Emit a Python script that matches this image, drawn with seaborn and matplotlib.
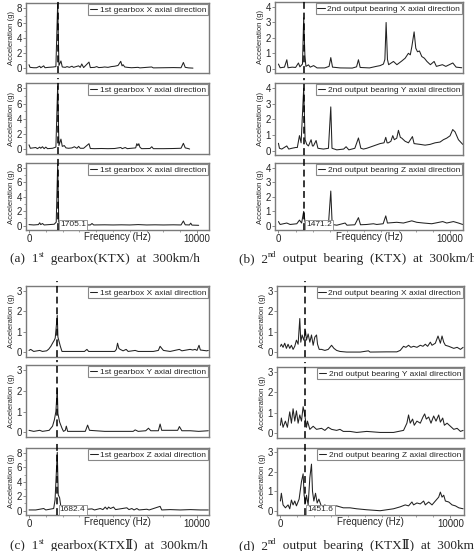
import matplotlib
matplotlib.use('Agg')
import matplotlib.pyplot as plt
import seaborn as sns
from matplotlib.ticker import MultipleLocator

# ---------------- data ----------------
# (a) 1st gearbox, KTX
a1_freq = [0, 60, 280, 450, 636, 700, 874, 950, 1150, 1450,
           1600, 1705, 1780, 1900, 1980, 2160, 2260, 2400, 2557, 2650,
           2950, 3050, 3140, 3250, 3570, 3650, 3900, 4030, 4150, 4350,
           4500, 4700, 4900, 5100, 5300, 5460, 5540, 5600, 5700, 5850,
           6100, 6490, 6600, 7300, 7400, 8000, 8600, 9050, 9190, 9300,
           9500, 9760]
a1_acc = [0.5, 0.15, 0.1, 0.1, 0.3, 0.1, 0.35, 0.1, 0.15, 0.2,
          0.25, 8.6, 0.4, 1.0, 0.2, 0.15, 0.25, 0.15, 0.3, 0.15,
          0.35, 0.15, 0.6, 0.12, 0.85, 0.12, 0.15, 0.25, 0.12, 0.15,
          0.2, 0.15, 0.25, 0.3, 0.4, 0.95, 0.35, 0.5, 0.2, 0.15,
          0.1, 0.15, 0.08, 0.2, 0.08, 0.1, 0.12, 0.1, 0.8, 0.15,
          0.08, 0.05]
a2_freq = [0, 80, 400, 500, 636, 700, 800, 900, 1000, 1100,
           1400, 1600, 1705, 1780, 1900, 1980, 2100, 2200, 2350, 2557,
           2700, 2850, 2953, 3050, 3250, 3570, 3650, 3900, 4300, 4700,
           5100, 5460, 5550, 5725, 5850, 6100, 6350, 6418, 6480, 6537,
           6600, 6700, 7200, 7309, 7400, 8000, 8600, 9050, 9190, 9300,
           9500, 9560]
a2_acc = [0.6, 0.15, 0.25, 0.1, 0.3, 0.15, 0.35, 0.1, 0.3, 0.1,
          0.15, 0.3, 8.3, 0.5, 1.35, 0.4, 0.5, 0.2, 0.15, 0.2,
          0.35, 0.15, 0.4, 0.15, 0.15, 0.75, 0.12, 0.1, 0.12, 0.1,
          0.12, 0.25, 0.1, 0.25, 0.1, 0.15, 0.2, 0.75, 0.5, 0.75,
          0.3, 0.1, 0.12, 0.35, 0.1, 0.1, 0.12, 0.15, 0.8, 0.2,
          0.1, 0.05]
a3_freq = [0, 280, 560, 636, 700, 800, 900, 1200, 1500, 1620,
           1705, 1770, 1850, 2000, 2400, 2953, 3100, 3200, 3300, 3650,
           3750, 3850, 4500, 5000, 5500, 6000, 6500, 7000, 7500, 8000,
           8600, 9050, 9190, 9300, 9550, 9626, 9700, 10100]
a3_acc = [0.15, 0.1, 0.15, 0.4, 0.15, 0.3, 0.1, 0.15, 0.2, 0.5,
          8.5, 0.5, 0.3, 0.1, 0.12, 0.1, 0.15, 0.35, 0.1, 0.1,
          0.3, 0.1, 0.12, 0.1, 0.12, 0.1, 0.15, 0.1, 0.12, 0.1,
          0.12, 0.1, 0.65, 0.12, 0.1, 0.35, 0.08, 0.05]

# (b) 2nd output bearing, KTX
b1_freq = [0, 100, 350, 489, 560, 800, 1000, 1165, 1250, 1400,
           1471, 1540, 1600, 1750, 1850, 2050, 2250, 2700, 2950, 3050,
           3150, 3600, 4300, 4550, 4660, 4760, 5300, 5700, 5923, 6115,
           6200, 6272, 6350, 6420, 6700, 6900, 7185, 7380, 7570, 7680,
           7770, 7903, 8000, 8100, 8213, 8350, 8500, 8650, 8850, 9068,
           9200, 9550, 9750, 10157, 10350, 10680]
b1_acc = [0.3, 0.06, 0.1, 0.58, 0.06, 0.1, 0.08, 0.37, 0.12, 0.3,
          3.3, 0.9, 0.15, 0.25, 0.1, 0.2, 0.05, 0.05, 0.15, 0.72,
          0.1, 0.05, 0.04, 0.12, 0.58, 0.08, 0.05, 0.15, 0.2, 0.3,
          0.6, 3.0, 0.6, 0.26, 0.47, 0.26, 0.5, 0.68, 1.0, 0.9,
          1.43, 2.39, 1.33, 1.1, 1.15, 0.79, 0.68, 0.47, 0.26, 0.47,
          0.15, 0.26, 0.15, 0.37, 0.1, 0.06]
b2_freq = [0, 60, 195, 486, 600, 778, 1000, 1100, 1224, 1321,
           1471, 1554, 1650, 1748, 1903, 1980, 2039, 2194, 2300, 2622,
           2913, 3049, 3120, 3398, 3800, 3941, 4100, 4450, 4660, 4800,
           4951, 5145, 5533, 5921, 6150, 6251, 6330, 6406, 6550, 6659,
           6750, 6892, 6989, 7100, 7183, 7377, 7572, 7805, 7900, 8250,
           8542, 8833, 9124, 9415, 9609, 9803, 9997, 10152, 10288, 10483,
           10735]
b2_acc = [0.47, 0.15, 0.1, 0.3, 0.1, 0.15, 0.2, 0.2, 0.96, 0.5,
          4.0, 0.7, 0.4, 0.3, 0.7, 0.3, 0.3, 0.65, 0.15, 0.1,
          0.15, 2.8, 0.15, 0.05, 0.1, 0.25, 0.05, 0.15, 0.81, 0.15,
          0.1, 0.15, 0.3, 0.45, 0.5, 0.85, 0.5, 0.5, 0.6, 0.96,
          0.7, 0.8, 1.3, 0.85, 0.8, 0.6, 0.5, 0.9, 0.45, 0.4,
          0.35, 0.4, 0.5, 0.55, 0.7, 0.8, 0.95, 1.35, 1.2, 0.7,
          0.4]
b3_freq = [0, 98, 486, 681, 1069, 1224, 1350, 1471, 1550, 1700,
           1900, 2100, 2400, 2913, 3049, 3130, 3400, 3884, 3990, 4450,
           4660, 4780, 5145, 5533, 5727, 6100, 6251, 6350, 6892, 7280,
           7766, 8056, 8445, 8930, 9570, 9803, 10191, 10483, 10735]
b3_acc = [0.3, 0.1, 0.2, 0.1, 0.15, 0.4, 0.2, 1.0, 0.25, 0.2,
          0.15, 0.2, 0.1, 0.1, 2.4, 0.1, 0.05, 0.2, 0.05, 0.08,
          0.57, 0.08, 0.1, 0.15, 0.1, 0.15, 0.69, 0.2, 0.25, 0.2,
          0.35, 0.25, 0.2, 0.15, 0.3, 0.2, 0.3, 0.2, 0.1]

# (c) 1st gearbox, KTX-II
c1_freq = [0, 100, 280, 636, 800, 1050, 1171, 1300, 1400, 1508,
           1560, 1682, 1720, 1800, 1864, 1963, 2500, 3300, 3448, 3550,
           5100, 5200, 5270, 5350, 5428, 5600, 5784, 5900, 6319, 6500,
           7400, 7700, 7804, 7900, 8002, 8400, 8952, 9100, 9586, 9750,
           9883, 10000, 10121, 10200, 10576, 10675]
c1_acc = [0.1, 0.15, 0.05, 0.1, 0.05, 0.08, 0.16, 0.3, 0.45, 0.6,
          0.7, 1.8, 0.75, 0.5, 0.3, 0.05, 0.05, 0.05, 0.15, 0.05,
          0.05, 0.15, 0.45, 0.2, 0.15, 0.08, 0.15, 0.05, 0.1, 0.05,
          0.05, 0.1, 0.3, 0.2, 0.1, 0.05, 0.15, 0.08, 0.15, 0.12,
          0.15, 0.1, 0.35, 0.12, 0.08, 0.1]
c2_freq = [0, 280, 636, 800, 1200, 1400, 1508, 1600, 1682, 1720,
           1820, 1963, 2050, 2161, 2220, 2300, 3350, 3488, 3600, 4500,
           6200, 6319, 6500, 6950, 7111, 7250, 7700, 7804, 7900, 8596,
           8850, 8952, 9100, 9600, 10100, 10675]
c2_acc = [0.1, 0.05, 0.1, 0.05, 0.1, 0.3, 0.6, 1.0, 2.1, 0.9,
          0.5, 0.2, 0.05, 0.1, 0.3, 0.05, 0.05, 0.35, 0.1, 0.05,
          0.05, 0.12, 0.05, 0.08, 0.2, 0.08, 0.08, 0.4, 0.1, 0.1,
          0.1, 0.28, 0.08, 0.08, 0.05, 0.08]
c3_freq = [0, 400, 874, 1000, 1468, 1550, 1682, 1740, 1820, 1900,
           2050, 2260, 2557, 2800, 3050, 3245, 3745, 3900, 4240, 4400,
           4537, 4650, 4735, 4850, 5032, 5150, 5824, 5950, 6121, 6250,
           6418, 6550, 7012, 7150, 7804, 7900, 8400, 9000, 9600, 10200,
           10675]
c3_acc = [0.1, 0.1, 0.3, 0.1, 0.3, 1.5, 8.1, 2.2, 1.8, 0.5,
          0.2, 0.15, 0.2, 0.1, 0.2, 0.15, 0.25, 0.1, 0.3, 0.15,
          0.5, 0.2, 0.5, 0.3, 0.5, 0.15, 0.4, 0.15, 0.3, 0.1,
          0.3, 0.1, 0.2, 0.1, 0.6, 0.1, 0.15, 0.1, 0.15, 0.1,
          0.1]

# (d) 2nd output bearing, KTX-II
d1_freq = [0, 57, 156, 254, 353, 451, 550, 648, 746, 845,
           943, 1042, 1140, 1199, 1278, 1376, 1475, 1534, 1632, 1731,
           1829, 1928, 2026, 2125, 2184, 2282, 2420, 2617, 2814, 3011,
           3149, 3306, 3503, 3897, 4700, 5177, 5275, 6260, 6850, 7047,
           7244, 7382, 7539, 7677, 7835, 8032, 8229, 8386, 8524, 8662,
           8819, 8918, 9114, 9272, 9410, 9508, 9607, 9705, 9902, 10198,
           10395, 10591, 10749]
d1_acc = [0.3, 0.4, 0.25, 0.45, 0.2, 0.4, 0.2, 0.35, 0.15, 0.3,
          0.6, 0.4, 1.65, 0.5, 0.85, 0.6, 1.05, 0.6, 0.9, 0.5,
          0.85, 0.35, 0.75, 0.85, 0.4, 0.15, 0.15, 0.1, 0.15, 0.35,
          0.2, 0.1, 0.05, 0.02, 0.02, 0.08, 0.02, 0.03, 0.03, 0.1,
          0.3, 0.25, 0.35, 0.25, 0.3, 0.25, 0.35, 0.3, 0.4, 0.3,
          0.5, 0.35, 0.45, 0.8, 0.45, 0.8, 0.5, 0.35, 0.3, 0.2,
          0.25, 0.15, 0.25]
d2_freq = [0, 57, 156, 294, 412, 550, 648, 746, 845, 943,
           1042, 1140, 1239, 1337, 1435, 1534, 1593, 1731, 1928, 2125,
           2420, 2617, 2814, 3011, 3306, 3503, 3700, 4094, 4488, 5078,
           5866, 6653, 7244, 7441, 7539, 7638, 7776, 7874, 8032, 8229,
           8386, 8485, 8583, 8721, 8859, 9016, 9154, 9311, 9410, 9548,
           9646, 9804, 10001, 10198, 10395, 10591, 10749]
d2_acc = [0.4, 0.75, 0.3, 0.6, 0.3, 1.05, 0.5, 1.2, 0.6, 1.1,
          0.5, 0.9, 0.6, 1.3, 0.9, 0.3, 0.6, 0.2, 0.35, 0.2,
          0.25, 0.15, 0.3, 0.2, 0.15, 0.2, 0.1, 0.1, 0.05, 0.1,
          0.05, 0.05, 0.15, 0.5, 0.9, 0.5, 0.7, 0.4, 0.6, 0.5,
          0.8, 0.95, 0.7, 0.8, 0.5, 0.85, 0.6, 0.9, 0.55, 0.75,
          0.4, 0.5, 0.35, 0.2, 0.25, 0.1, 0.15]
d3_freq = [0, 57, 156, 294, 451, 550, 648, 746, 845, 943,
           1101, 1239, 1337, 1396, 1475, 1534, 1632, 1731, 1829, 1888,
           1967, 2066, 2164, 2263, 2420, 2617, 2814, 3109, 3306, 3503,
           3700, 4094, 4488, 5078, 5866, 6260, 6653, 7047, 7343, 7539,
           7736, 7835, 8032, 8229, 8426, 8524, 8721, 8918, 9114, 9311,
           9410, 9508, 9607, 9705, 9902, 10099, 10296, 10493, 10749]
d3_acc = [0.5, 0.9, 0.3, 0.15, 0.3, 0.1, 0.55, 0.3, 0.5, 0.25,
          0.6, 1.5, 1.9, 0.8, 0.4, 0.8, 0.3, 1.7, 2.4, 1.0,
          0.5, 0.9, 0.4, 0.6, 0.2, 0.3, 0.15, 0.2, 0.25, 0.2,
          0.15, 0.15, 0.1, 0.05, 0.0, 0.05, 0.1, 0.2, 0.3, 0.25,
          0.45, 0.3, 0.4, 0.35, 0.5, 0.3, 0.45, 0.3, 0.5, 0.7,
          0.96, 0.7, 0.8, 0.5, 0.45, 0.3, 0.25, 0.15, 0.1]

peak_freq = {'a': 1705.1, 'b': 1471.2, 'c': 1682.4, 'd': 1451.6}

legend_a = ['1st gearbox X axial direction', '1st gearbox Y axial direction',
            '1st gearbox X axial direction']
legend_b = ['2nd output bearing X axial direction', '2nd output bearing Y axial direction',
            '2nd output bearing Z axial direction']
legend_c = ['1st gearbox X axial direction', '1st gearbox Y axial direction',
            '1st gearbox Z axial direction']
legend_d = legend_b

captions = {
    'a': ('(a)  1', 'st', '  gearbox(KTX)  at  300km/h'),
    'b': ('(b)  2', 'nd', '  output  bearing  (KTX)  at  300km/h'),
    'c': ('(c)  1', 'st', '  gearbox(KTX\u2161)  at  300km/h'),
    'd': ('(d)  2', 'nd', '  output  bearing  (KTX\u2161)  at  300km/h'),
}

spectra = {
    'a': [(a1_freq, a1_acc), (a2_freq, a2_acc), (a3_freq, a3_acc)],
    'b': [(b1_freq, b1_acc), (b2_freq, b2_acc), (b3_freq, b3_acc)],
    'c': [(c1_freq, c1_acc), (c2_freq, c2_acc), (c3_freq, c3_acc)],
    'd': [(d1_freq, d1_acc), (d2_freq, d2_acc), (d3_freq, d3_acc)],
}
legends = {'a': legend_a, 'b': legend_b, 'c': legend_c, 'd': legend_d}

# ---------------- layout (pixels) ----------------
W, H = 474, 551
layout = {
    #      left right  panel rows (top, bottom)                 xlim            ylim          major minor
    'a': (26, 209, [(3, 73), (83, 154), (163, 230)], (-180, 10715), (-0.6, 8.7), 2, 1),
    'b': (275, 463, [(2, 73), (83, 155), (163, 230)], (-200, 10750), (-0.28, 4.33), 1, None),
    'c': (26, 209, [(286, 357), (365, 437), (448, 515)], (-180, 10715), (-0.22, 3.23), 1, None),
    'd': (277, 464, [(286, 357), (367, 438), (448, 515)], (-200, 10800), (-0.22, 3.23), 1, None),
}
ylim_c3 = (-0.6, 8.7)
caption_pos = {'a': (10, 262), 'b': (239, 262), 'c': (10, 549), 'd': (239, 549)}

sns.set_style('white')
plt.rcParams['font.family'] = ['Liberation Sans', 'DejaVu Sans']
serif = ['Liberation Serif', 'DejaVu Serif', 'Noto Sans CJK KR']
frame_col = '#7a7a7a'

fig = plt.figure(figsize=(W / 100, H / 100), dpi=100)
host = None

for key, (left, right, rows, xlim, ylim, major, minor) in layout.items():
    for i, (top, bottom) in enumerate(rows):
        ax = fig.add_axes([left / W, 1 - bottom / H, (right - left) / W, (bottom - top) / H])
        if host is None:
            host = ax
        freq, acc = spectra[key][i]
        sns.lineplot(x=freq, y=acc, ax=ax, color='#222222', linewidth=0.75,
                     label=legends[key][i], estimator=None, sort=False)
        ax.axvline(peak_freq[key], ymin=0, ymax=1.07, color='black', lw=1.1,
                   ls=(0, (4.5, 2.5)), clip_on=False, zorder=3)
        yl, mj, mn = ylim, major, minor
        if key == 'c' and i == 2:
            yl, mj, mn = ylim_c3, 2, 1
        ax.set_xlim(xlim)
        ax.set_ylim(yl)
        ax.yaxis.set_major_locator(MultipleLocator(mj))
        if mn:
            ax.yaxis.set_minor_locator(MultipleLocator(mn))
        ax.tick_params(axis='y', which='major', left=True, direction='out', length=2.5,
                       width=0.6, color=frame_col, labelsize=7, pad=0.6)
        ax.tick_params(axis='y', which='minor', left=True, direction='out', length=1.5,
                       width=0.5, color=frame_col)
        ax.set_ylabel('Acceleration (g)', fontsize=5.5, labelpad=1.2)
        for s in ax.spines.values():
            s.set_color(frame_col)
            s.set_linewidth(1.0)
        leg = ax.legend(loc='upper right', fontsize=6, handlelength=0.9, handletextpad=0.3,
                        borderpad=0.2, borderaxespad=0.15, fancybox=False, framealpha=1)
        leg.get_frame().set_edgecolor('#888888')
        leg.get_frame().set_linewidth(0.8)
        if i < 2:
            ax.set_xticks([])
            ax.set_xlabel('')
        else:
            ax.set_xticks([0, 10000])
            ax.set_xticklabels(['0', '10000'])
            ax.xaxis.set_minor_locator(MultipleLocator(1000))
            ax.tick_params(axis='x', which='major', bottom=True, direction='out', length=2,
                           width=0.6, color=frame_col, labelsize=7, pad=0.8)
            ax.tick_params(axis='x', which='minor', bottom=True, direction='out', length=1.2,
                           width=0.5, color=frame_col)
            ax.set_xlabel('Frequency (Hz)', fontsize=7)
            ax.xaxis.set_label_coords(0.5, -0.035)
            ax.annotate(f'{peak_freq[key]:.1f}', xy=(peak_freq[key], 0),
                        xycoords=('data', 'axes fraction'), xytext=(1.8, 1.2),
                        textcoords='offset points', ha='left', va='bottom', fontsize=6,
                        bbox=dict(boxstyle='square,pad=0.15', fc='white', ec='#888888', lw=0.6),
                        zorder=5)

for key, (pre, sup, post) in captions.items():
    x, y = caption_pos[key]
    t1 = fig.text(x / W, 1 - y / H, pre, fontsize=9.5, family=serif, va='baseline')
    t2 = host.annotate(sup, xy=(1, 0.5), xycoords=t1, fontsize=6, family=serif,
                       ha='left', va='bottom', annotation_clip=False)
    host.annotate(post, xy=(1, 0), xycoords=(t2, t1), fontsize=9.5, family=serif,
                  ha='left', va='bottom', annotation_clip=False)

fig.savefig('out.png', dpi=100)
